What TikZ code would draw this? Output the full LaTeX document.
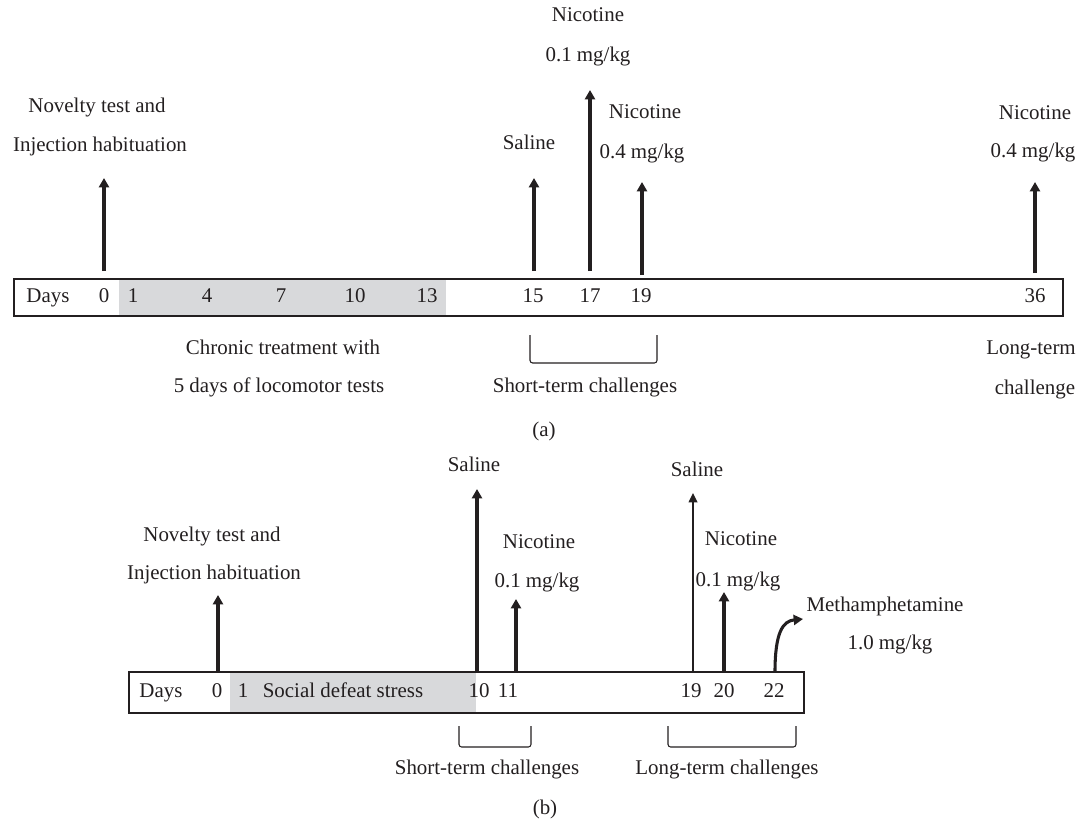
\documentclass[tikz,border=0pt]{standalone}
\usepackage{fontspec}
\setmainfont{Liberation Serif}
\usetikzlibrary{arrows.meta}
\definecolor{greyfill}{RGB}{216,217,219}
\definecolor{ink}{RGB}{35,31,32}
\tikzset{
  lbl/.style={inner sep=0pt, text height=0.68em, text depth=0pt, text=ink, font=\fontsize{15.7pt}{18pt}\selectfont},
  thickarrow/.style={draw=ink, line width=2.3pt, -{Triangle[length=7pt,width=7.5pt]}},
  thinarrow/.style={draw=ink, line width=1.1pt, -{Triangle[length=7pt,width=6.5pt]}},
  timebox/.style={draw=ink, line width=1.2pt},
  bracket/.style={draw=ink, line width=0.8pt, rounded corners=2pt},
}
\begin{document}
\begin{tikzpicture}[x=0.75pt,y=-0.75pt]
\useasboundingbox (0,0) rectangle (1082,820);

% ---------------- Panel (a) ----------------
\fill[greyfill] (119,279) rectangle (446,316);
\draw[timebox] (14,279) rectangle (1063,316);
\node[lbl] (aDays) at (48,298) {Days};
\node[lbl] (a0) at (104,298) {0};
\node[lbl] (a1) at (133,298) {1};
\node[lbl] (a4) at (207,298) {4};
\node[lbl] (a7) at (281,298) {7};
\node[lbl] (a10) at (355,298) {10};
\node[lbl] (a13) at (427,298) {13};
\node[lbl] (a15) at (533,298) {15};
\node[lbl] (a17) at (590,298) {17};
\node[lbl] (a19) at (641,298) {19};
\node[lbl] (a36) at (1035,298) {36};

\coordinate (aA0b) at (104,271); \coordinate (aA0t) at (104,178);
\coordinate (aA15b) at (534,271); \coordinate (aA15t) at (534,178);
\coordinate (aA17b) at (590,271); \coordinate (aA17t) at (590,90);
\coordinate (aA19b) at (642,275); \coordinate (aA19t) at (642,182);
\coordinate (aA36b) at (1035,273); \coordinate (aA36t) at (1035,182);
\draw[thickarrow] (aA0b) -- (aA0t);
\draw[thickarrow] (aA15b) -- (aA15t);
\draw[thickarrow] (aA17b) -- (aA17t);
\draw[thickarrow] (aA19b) -- (aA19t);
\draw[thickarrow] (aA36b) -- (aA36t);

\node[lbl] (aNov) at (97,108) {Novelty test and};
\node[lbl] (aInj) at (100,147) {Injection habituation};
\node[lbl] (aSal) at (529,145) {Saline};
\node[lbl] (aNic1) at (588,17) {Nicotine};
\node[lbl] (aDose1) at (588,57) {0.1 mg/kg};
\node[lbl] (aNic2) at (645,114) {Nicotine};
\node[lbl] (aDose2) at (642,154) {0.4 mg/kg};
\node[lbl] (aNic3) at (1035,115) {Nicotine};
\node[lbl] (aDose3) at (1033,153) {0.4 mg/kg};

\node[lbl] (aChr1) at (283,350) {Chronic treatment with};
\node[lbl] (aChr2) at (279,388) {5 days of locomotor tests};
\coordinate (aBr1) at (530,335); \coordinate (aBr2) at (657,335);
\draw[bracket] (aBr1) -- (530,363) -- (657,363) -- (aBr2);
\node[lbl] (aShort) at (585,388) {Short-term challenges};
\node[lbl] (aLong1) at (1031,350) {Long-term};
\node[lbl] (aLong2) at (1035,390) {challenge};
\node[lbl] (aCap) at (544,432) {(a)};

% ---------------- Panel (b) ----------------
\fill[greyfill] (230,672) rectangle (476,713);
\draw[timebox] (129,672) rectangle (804,713);
\node[lbl] (bDays) at (161,693) {Days};
\node[lbl] (b0) at (217,693) {0};
\node[lbl] (b1) at (243,693) {1};
\node[lbl] (bSoc) at (343,693) {Social defeat stress};
\node[lbl] (b10) at (479,693) {10};
\node[lbl] (b11) at (508,693) {11};
\node[lbl] (b19) at (691,693) {19};
\node[lbl] (b20) at (724,693) {20};
\node[lbl] (b22) at (774,693) {22};

\coordinate (bA0b) at (218,672); \coordinate (bA0t) at (218,595);
\coordinate (bA10b) at (477,671); \coordinate (bA10t) at (477,489);
\coordinate (bA11b) at (516,672); \coordinate (bA11t) at (516,599);
\coordinate (bA19b) at (693,672); \coordinate (bA19t) at (693,493);
\coordinate (bA20b) at (724,671); \coordinate (bA20t) at (724,592);
\coordinate (bA22b) at (775,672); \coordinate (bA22t) at (803,619);
\draw[thickarrow] (bA0b) -- (bA0t);
\draw[thickarrow] (bA10b) -- (bA10t);
\draw[thickarrow] (bA11b) -- (bA11t);
\draw[thinarrow] (bA19b) -- (bA19t);
\draw[thickarrow] (bA20b) -- (bA20t);
\draw[thickarrow] (bA22b) .. controls (775,632) and (783,621) .. (bA22t);

\node[lbl] (bNov) at (212,537) {Novelty test and};
\node[lbl] (bInj) at (214,575) {Injection habituation};
\node[lbl] (bSal1) at (474,467) {Saline};
\node[lbl] (bNic1) at (539,544) {Nicotine};
\node[lbl] (bDose1) at (537,583) {0.1 mg/kg};
\node[lbl] (bSal2) at (697,472) {Saline};
\node[lbl] (bNic2) at (741,541) {Nicotine};
\node[lbl] (bDose2) at (738,582) {0.1 mg/kg};
\node[lbl] (bMeth) at (885,607) {Methamphetamine};
\node[lbl] (bDose3) at (890,645) {1.0 mg/kg};

\coordinate (bBr1) at (459,726); \coordinate (bBr2) at (531,726);
\draw[bracket] (bBr1) -- (459,747) -- (531,747) -- (bBr2);
\coordinate (bBr3) at (668,726); \coordinate (bBr4) at (796,726);
\draw[bracket] (bBr3) -- (668,747) -- (796,747) -- (bBr4);
\node[lbl] (bShort) at (487,770) {Short-term challenges};
\node[lbl] (bLong) at (727,770) {Long-term challenges};
\node[lbl] (bCap) at (545,810) {(b)};
\end{tikzpicture}
\end{document}
